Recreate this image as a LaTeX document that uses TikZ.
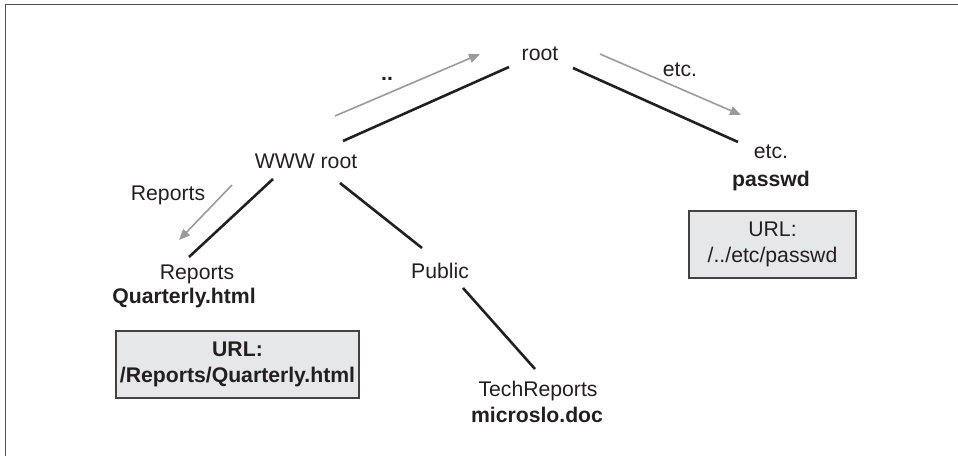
\documentclass[tikz,border=0pt]{standalone}
\usepackage{fontspec}
\setmainfont{Liberation Sans}
\usetikzlibrary{arrows.meta,calc}
\definecolor{framegray}{HTML}{505050}
\definecolor{arrowgray}{HTML}{9A9A9A}
\definecolor{boxfill}{HTML}{E6E7E8}
\definecolor{inkblack}{HTML}{231F20}
\begin{document}
\begin{tikzpicture}[x=0.5pt,y=-0.5pt,
  every node/.style={font=\fontsize{10.6}{13}\selectfont, text=inkblack, inner sep=0pt},
  bold/.style={font=\fontsize{10.6}{13}\selectfont\bfseries},
  lbl/.style={anchor=base},
  edge/.style={draw=inkblack, line width=1.3pt},
  garrow/.style={draw=arrowgray, line width=0.8pt, -{Triangle[length=5.5pt,width=4.5pt,fill=arrowgray]}},
  urlbox/.style={draw=inkblack!85, fill=boxfill, line width=0.7pt, align=center, minimum height=33.5pt}]
\useasboundingbox (0,0) rectangle (958,456);
% frame (open at right and bottom)
\draw[framegray, line width=0.9pt] (958,4.5) -- (5.5,4.5) -- (5.5,456);

% tree nodes
\node[lbl] (root) at (540,60.5) {root};
\node[lbl] (www) at (306,168) {WWW root};
\node[lbl] (rep) at (197,279) {Reports};
\node[lbl,bold] (qhtml) at (184,303) {Quarterly.html};
\node[lbl] (pub) at (440,278) {Public};
\node[lbl] (tech) at (538,396) {TechReports};
\node[lbl,bold] (doc) at (537,422) {microslo.doc};
\node[lbl] (etc) at (771,158) {etc.};
\node[lbl,bold] (pwd) at (771,186) {passwd};

% URL boxes
\node[urlbox,bold,minimum width=121.5pt] (url1) at (237.5,364.5) {URL:\\/Reports/Quarterly.html};
\node[urlbox,minimum width=83.5pt] (url2) at (772.5,244.5) {URL:\\/../etc/passwd};

% tree edges
\draw[edge] ($(www.base)+(37,-27)$) -- ($(root.base)+(-31,6.5)$);
\draw[edge] ($(root.base)+(33,7.5)$) -- ($(etc.base)+(-33,-16)$);
\draw[edge] ($(www.base)+(-33,11)$) -- ($(rep.base)+(-8,-22)$);
\draw[edge] ($(www.base)+(34,15)$) -- ($(pub.base)+(-18,-30)$);
\draw[edge] ($(pub.base)+(23,10)$) -- ($(tech.base)+(-3,-27)$);

% navigation arrows and their labels
\coordinate (upA) at (335,116);
\coordinate (upB) at (480,54);
\coordinate (etcA) at (600,54);
\coordinate (etcB) at (741,115);
\coordinate (repA) at (232,185);
\coordinate (repB) at (179,240);
\draw[garrow] (upA) -- (upB);
\draw[garrow] (etcA) -- (etcB);
\draw[garrow] (repA) -- (repB);
\node[lbl,bold] (dd) at (387,80.5) {..};
\node[lbl] (etclbl) at (680,76) {etc.};
\node[lbl] (replbl) at (168,200) {Reports};
\end{tikzpicture}
\end{document}
